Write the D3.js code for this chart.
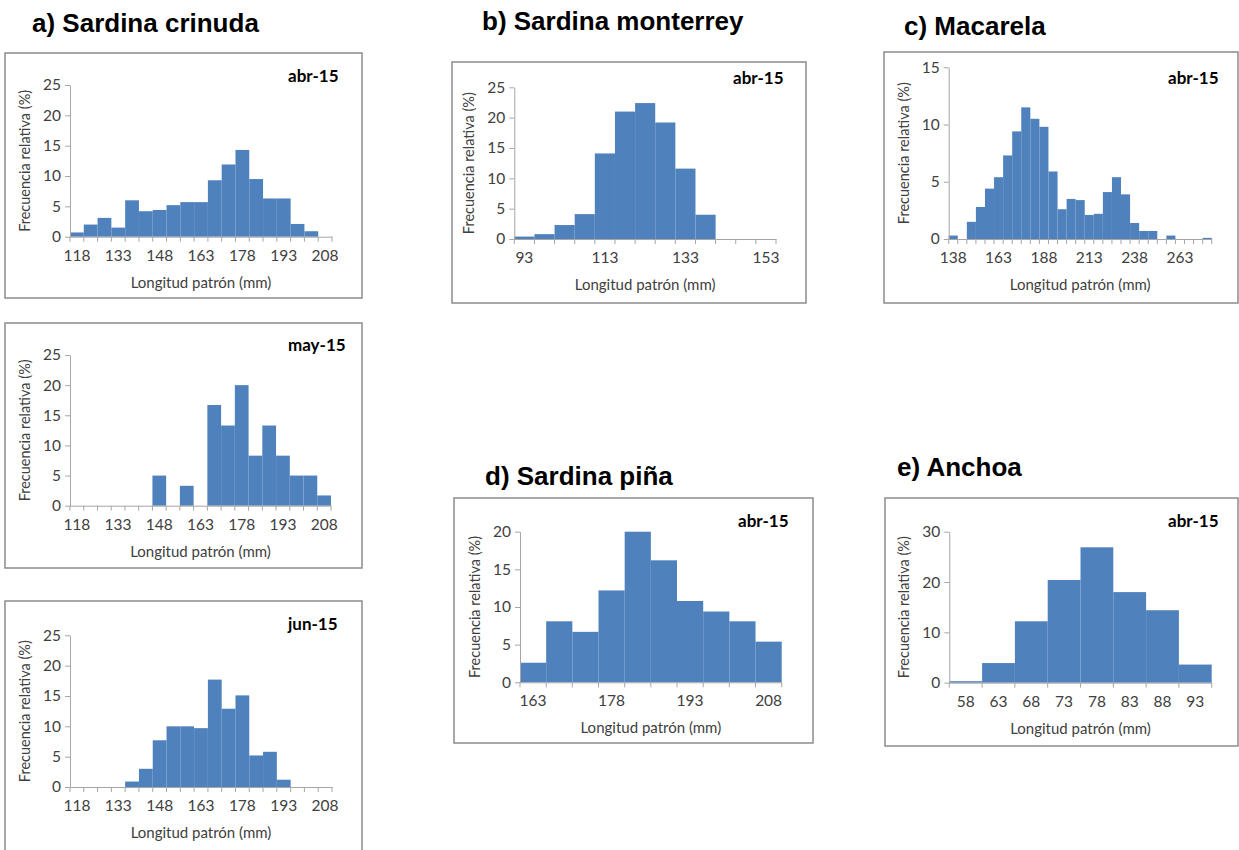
<!DOCTYPE html>
<html><head><meta charset="utf-8">
<script src="https://cdn.jsdelivr.net/npm/d3@7/dist/d3.min.js"></script>
<style>body{margin:0;background:#fff;} svg{display:block;}</style>
</head><body>
<svg id="chart" width="1239" height="850"></svg>
<script>
// ---------- DATA ----------
const crinudaCats = [118,123,128,133,138,143,148,153,158,163,168,173,178,183,188,193,198,203,208];
const crinudaAbr  = [0.7,2.0,3.1,1.5,6.0,4.2,4.4,5.2,5.7,5.7,9.3,11.9,14.3,9.5,6.3,6.3,2.1,0.9,0];
const crinudaMay  = [0,0,0,0,0,0,5.0,0,3.3,0,16.7,13.3,20.0,8.3,13.3,8.3,5.0,5.0,1.7];
const crinudaJun  = [0,0,0,0,0.9,3.0,7.7,10.0,10.0,9.7,17.7,12.9,15.1,5.2,5.8,1.2,0,0,0];

const monterreyCats = [93,98,103,108,113,118,123,128,133,138,143,148,153];
const monterreyAbr  = [0.4,0.8,2.3,4.1,14.1,21.0,22.4,19.2,11.6,4.0,0,0,0];

const macarelaCats = [138,143,148,153,158,163,168,173,178,183,188,193,198,203,208,213,218,223,228,233,238,243,248,253,258,263,268,273,278];
const macarelaAbr  = [0.3,0,1.5,2.8,4.4,5.4,7.3,9.4,11.5,10.5,9.8,5.9,2.6,3.5,3.4,2.1,2.2,4.1,5.4,3.9,1.4,0.7,0.7,0,0.3,0,0,0,0.1];

const pinaCats = [163,168,173,178,183,188,193,198,203,208];
const pinaAbr  = [2.6,8.1,6.7,12.2,20.0,16.2,10.8,9.4,8.1,5.4];

const anchoaCats = [58,63,68,73,78,83,88,93];
const anchoaAbr  = [0.3,3.9,12.2,20.4,26.9,18.0,14.4,3.6];

const yTicksA = [0,5,10,15,20,25];
const yTicksB = [0,5,10,15,20,25];
const yTicksC = [0,5,10,15];
const yTicksD = [0,5,10,15,20];
const yTicksE = [0,10,20,30];

const titles = [
  {text:"a) Sardina crinuda", x:32, y:32},
  {text:"b) Sardina monterrey", x:482, y:29.5},
  {text:"c) Macarela", x:904, y:35},
  {text:"d) Sardina piña", x:485, y:485},
  {text:"e) Anchoa", x:897, y:476}
];

const xTitle = "Longitud patrón (mm)";
const yTitle = "Frecuencia relativa (%)";

// ---------- LAYOUT ----------
const panels = [
  {cats:crinudaCats, values:crinudaAbr, month:"abr-15", yTicks:yTicksA, every:3, box:[5,53,362,298], plot:[70,85,332,236.7], mpos:[288,81.7]},
  {cats:crinudaCats, values:crinudaMay, month:"may-15", yTicks:yTicksA, every:3, box:[5,323,362,568], plot:[70,355,331,505.7], mpos:[288,351]},
  {cats:crinudaCats, values:crinudaJun, month:"jun-15", yTicks:yTicksA, every:3, box:[5,601,362,870], plot:[70,635.3,332,787], mpos:[288,630]},
  {cats:monterreyCats, values:monterreyAbr, month:"abr-15", yTicks:yTicksB, every:4, box:[452,62,806,303], plot:[514.3,87.3,776,239], mpos:[733,84]},
  {cats:macarelaCats, values:macarelaAbr, month:"abr-15", yTicks:yTicksC, every:5, box:[884,52,1238,303], plot:[948.7,67.3,1211.7,239], mpos:[1168,84]},
  {cats:pinaCats, values:pinaAbr, month:"abr-15", yTicks:yTicksD, every:3, box:[454,498,813,743], plot:[520,531.7,781.7,682.3], mpos:[738,527]},
  {cats:anchoaCats, values:anchoaAbr, month:"abr-15", yTicks:yTicksE, every:1, box:[885,498,1238,746], plot:[949.3,531.7,1211.7,682.7], mpos:[1168,527]}
];

const BAR = "#4F81BD", AXIS = "#a6a6a6", TXT = "#404040";
const FONT = "Lato, 'Open Sans', sans-serif";

const svg = d3.select("#chart");

svg.selectAll("text.title").data(titles).join("text")
  .attr("class","title")
  .attr("x", d=>d.x).attr("y", d=>d.y)
  .attr("font-family","'Liberation Sans', Arial, sans-serif")
  .attr("font-weight","bold").attr("font-size",26).attr("fill","#000")
  .text(d=>d.text);

panels.forEach(p => {
  const g = svg.append("g");
  g.append("rect")
    .attr("x", p.box[0]).attr("y", p.box[1])
    .attr("width", p.box[2]-p.box[0]).attr("height", p.box[3]-p.box[1])
    .attr("fill","#fff").attr("stroke","#8c8c8c").attr("stroke-width",1.5);

  const x = d3.scaleBand().domain(p.cats).range([p.plot[0], p.plot[2]]).padding(0);
  const yMax = p.yTicks[p.yTicks.length-1];
  const y = d3.scaleLinear().domain([0,yMax]).range([p.plot[3], p.plot[1]]);

  // bars
  g.append("g").selectAll("rect")
    .data(p.cats.map((c,i)=>({c, v:p.values[i]})).filter(d=>d.v>0))
    .join("rect")
    .attr("x", d=>x(d.c)).attr("width", x.bandwidth())
    .attr("y", d=>y(d.v)).attr("height", d=>y(0)-y(d.v))
    .attr("fill", BAR);

  // y axis
  const ya = g.append("g").attr("transform",`translate(${p.plot[0]},0)`)
    .call(d3.axisLeft(y).tickValues(p.yTicks).tickSize(5).tickSizeOuter(0).tickPadding(4));
  ya.select(".domain").attr("stroke", AXIS);
  ya.selectAll(".tick line").attr("stroke", AXIS);
  ya.selectAll(".tick text").attr("font-family",FONT).attr("font-size",15.5).attr("fill",TXT);

  // x axis (labels at band centres)
  const xa = g.append("g").attr("transform",`translate(0,${p.plot[3]})`)
    .call(d3.axisBottom(x).tickSize(0).tickSizeOuter(0).tickPadding(13)
      .tickFormat((d,i)=> i % p.every === 0 ? d : ""));
  xa.select(".domain").attr("stroke", AXIS);
  xa.selectAll(".tick text").attr("font-family",FONT).attr("font-size",15.5).attr("fill",TXT);
  // boundary tick marks
  const bounds = p.cats.map(c=>x(c)).concat([x.range()[1]]);
  xa.append("g").selectAll("line").data(bounds).join("line")
    .attr("x1", d=>d).attr("x2", d=>d).attr("y1",0).attr("y2",5)
    .attr("stroke", AXIS);

  // axis titles
  g.append("text")
    .attr("x",(p.plot[0]+p.plot[2])/2).attr("y",p.plot[3]+51)
    .attr("text-anchor","middle").attr("font-family",FONT).attr("font-size",15).attr("fill",TXT)
    .text(xTitle);
  g.append("text")
    .attr("transform",`translate(${p.plot[0]-40},${(p.plot[1]+p.plot[3])/2}) rotate(-90)`)
    .attr("text-anchor","middle").attr("font-family",FONT).attr("font-size",14.5).attr("fill",TXT)
    .text(yTitle);

  // month label
  g.append("text")
    .attr("x",p.mpos[0]).attr("y",p.mpos[1])
    .attr("font-family",FONT).attr("font-weight","bold").attr("font-size",17).attr("fill","#000")
    .text(p.month);
});
</script>
</body></html>
